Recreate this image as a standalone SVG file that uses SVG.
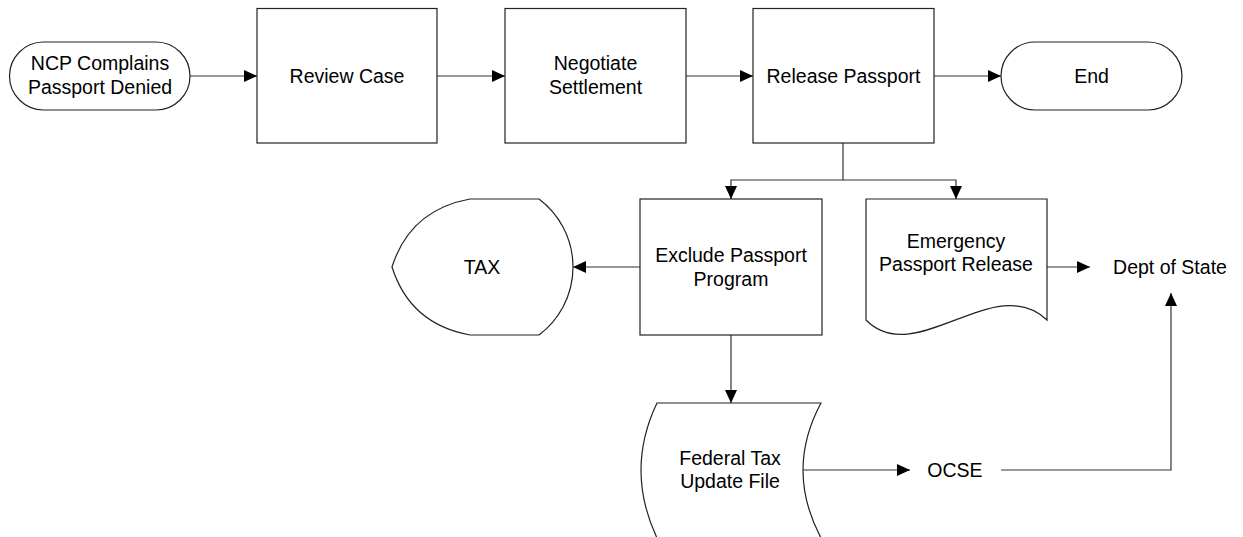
<svg xmlns="http://www.w3.org/2000/svg" width="1243" height="537" viewBox="0 0 1243 537">
<defs>
<style>
.s{fill:#fff;stroke:#222;stroke-width:1.2}
.c{fill:none;stroke:#333;stroke-width:1.2}
.t{font-family:"Liberation Sans",Arial,sans-serif;font-size:19.5px;fill:#000;text-anchor:middle}
</style>
<marker id="a" markerWidth="13" markerHeight="12" refX="13" refY="6" orient="auto" markerUnits="userSpaceOnUse">
<path d="M0,0 L13,6 L0,12 Z" fill="#000"/>
</marker>
</defs>
<rect width="1243" height="537" fill="#fff"/>
<g id="connectors">
<path class="c" d="M190,76 L257,76" marker-end="url(#a)"/>
<path class="c" d="M437,76 L505,76" marker-end="url(#a)"/>
<path class="c" d="M686,76 L753,76" marker-end="url(#a)"/>
<path class="c" d="M934,76 L1001,76" marker-end="url(#a)"/>
<path class="c" d="M843,143 L843,180"/>
<path class="c" d="M843,180 L731,180 L731,199" marker-end="url(#a)"/>
<path class="c" d="M843,180 L956,180 L956,199" marker-end="url(#a)"/>
<path class="c" d="M640,267 L573,267" marker-end="url(#a)"/>
<path class="c" d="M731,335 L731,403" marker-end="url(#a)"/>
<path class="c" d="M1047,267 L1090,267" marker-end="url(#a)"/>
<path class="c" d="M803,470 L910,470" marker-end="url(#a)"/>
<path class="c" d="M1001,470 L1171,470 L1171,293" marker-end="url(#a)"/>
</g>
<g id="start">
<rect class="s" x="9.5" y="42" width="180.5" height="68" rx="34" ry="34"/>
<text class="t" x="100" y="70">NCP Complains</text>
<text class="t" x="100" y="94">Passport Denied</text>
</g>
<g id="review">
<rect class="s" x="257" y="8.5" width="180" height="134.5"/>
<text class="t" x="347" y="83">Review Case</text>
</g>
<g id="negotiate">
<rect class="s" x="505" y="8.5" width="181" height="134.5"/>
<text class="t" x="595.5" y="70">Negotiate</text>
<text class="t" x="595.5" y="94">Settlement</text>
</g>
<g id="release">
<rect class="s" x="753" y="8.5" width="181" height="134.5"/>
<text class="t" x="843.5" y="83">Release Passport</text>
</g>
<g id="end">
<rect class="s" x="1001" y="42" width="181" height="68" rx="34" ry="34"/>
<text class="t" x="1091.5" y="83">End</text>
</g>
<g id="exclude">
<rect class="s" x="640" y="199" width="182" height="136"/>
<text class="t" x="731" y="262">Exclude Passport</text>
<text class="t" x="731" y="286">Program</text>
</g>
<g id="tax">
<path class="s" d="M470,199 L539,199 A85,85 0 0 1 539,335 L470,335 Q410,324 392,267 Q410,210 470,199 Z"/>
<text class="t" x="482" y="274">TAX</text>
</g>
<g id="emergency">
<path class="s" d="M866,199 L1047,199 L1047,320 C995,270 915,370 866,320 Z"/>
<text class="t" x="956" y="248">Emergency</text>
<text class="t" x="956" y="271">Passport Release</text>
</g>
<g id="deptstate">
<text class="t" x="1170" y="274">Dept of State</text>
</g>
<g id="federal">
<path class="s" d="M657,403 L821,403 Q785,470 821,538 L657,538 Q625,470 657,403 Z"/>
<text class="t" x="730" y="465">Federal Tax</text>
<text class="t" x="730" y="488">Update File</text>
</g>
<g id="ocse">
<text class="t" x="955" y="477">OCSE</text>
</g>
</svg>
